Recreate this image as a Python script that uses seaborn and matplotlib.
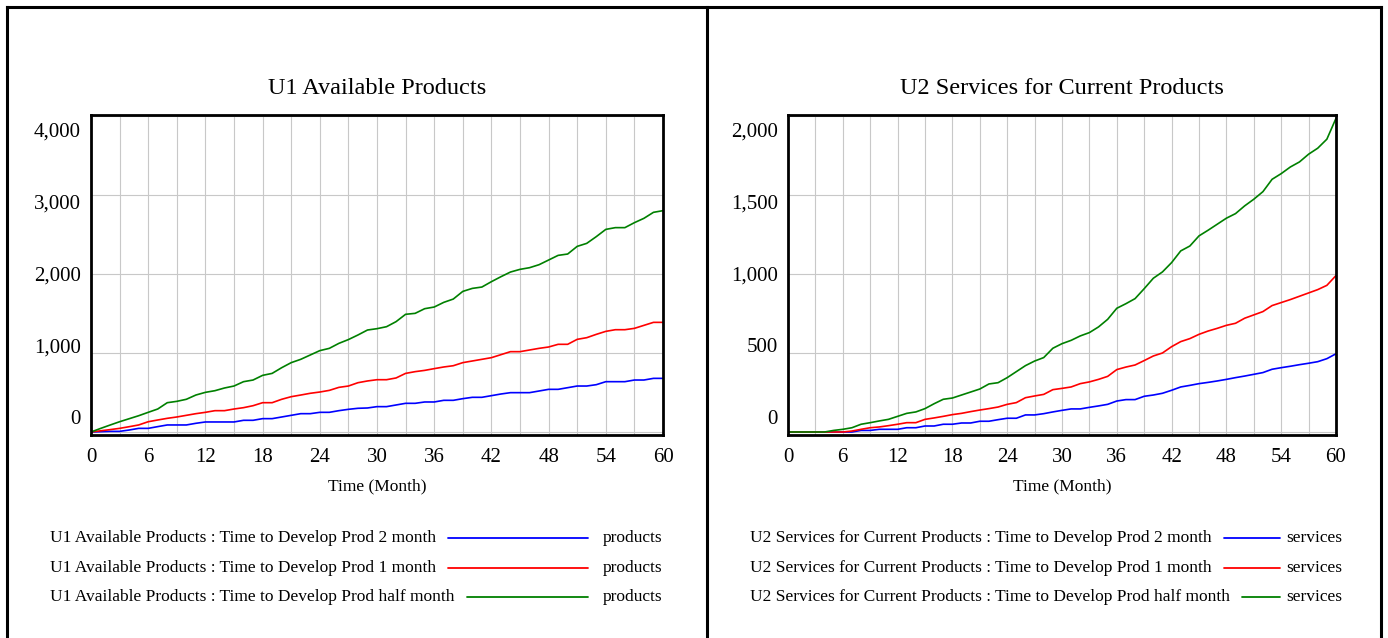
import pandas as pd
import seaborn as sns
import matplotlib.pyplot as plt
from matplotlib.lines import Line2D

# Simulation time axis (months)
months = list(range(61))

# U1 Available Products (products) per scenario
products_2_month = [0, 4, 8, 8, 25, 46, 46, 68, 89, 89, 89, 110, 127, 127, 127, 127,
                    148, 148, 169, 169, 190, 211, 232, 232, 249, 249, 270, 287, 300, 304,
                    321, 321, 342, 363, 363, 380, 380, 401, 401, 422, 439, 439, 460, 481,
                    498, 498, 498, 519, 540, 540, 561, 582, 582, 599, 637, 637, 637, 658,
                    658, 679, 679]
products_1_month = [0, 15, 30, 46, 67, 89, 130, 152, 173, 190, 211, 232, 249, 270, 270,
                    291, 308, 333, 371, 371, 414, 447, 468, 490, 506, 527, 565, 582, 624,
                    646, 662, 662, 684, 742, 764, 780, 802, 823, 839, 878, 899, 920, 941,
                    979, 1017, 1017, 1038, 1059, 1076, 1110, 1110, 1173, 1194, 1236, 1274,
                    1295, 1295, 1312, 1350, 1388, 1388]
products_half_month = [0, 45, 88, 130, 168, 206, 249, 291, 371, 388, 414, 468, 502, 523,
                       557, 582, 637, 658, 717, 742, 814, 878, 920, 975, 1030, 1059, 1122,
                       1170, 1228, 1291, 1308, 1333, 1397, 1490, 1502, 1561, 1582, 1641,
                       1683, 1780, 1818, 1835, 1903, 1966, 2025, 2059, 2080, 2118, 2177,
                       2236, 2253, 2350, 2388, 2473, 2565, 2587, 2587, 2650, 2705, 2781, 2802]

# U2 Services for Current Products (services) per scenario
services_2_month = [0, 0, 0, 0, 0, 0, 0, 0, 10, 10, 17, 17, 17, 27, 27, 38, 38, 49, 49,
                    57, 57, 68, 68, 78, 87, 87, 108, 108, 116, 127, 137, 146, 146, 156,
                    165, 175, 196, 205, 205, 226, 234, 245, 264, 285, 295, 306, 314, 323,
                    333, 344, 354, 365, 376, 397, 407, 416, 426, 435, 445, 464, 495]
services_1_month = [0, 0, 0, 0, 0, 0, 0, 6, 17, 27, 32, 40, 49, 59, 59, 80, 89, 99, 110,
                    118, 129, 139, 148, 158, 175, 186, 217, 228, 238, 268, 276, 285, 306,
                    317, 333, 352, 395, 411, 424, 452, 481, 500, 540, 572, 591, 618, 639,
                    656, 675, 688, 720, 741, 762, 800, 819, 838, 859, 880, 901, 928, 990]
services_half_month = [0, 0, 0, 0, 0, 10, 17, 27, 49, 59, 70, 80, 99, 118, 127, 148, 179,
                       207, 215, 234, 253, 272, 304, 312, 344, 382, 420, 449, 471, 530, 559,
                       580, 608, 629, 665, 713, 783, 812, 844, 907, 973, 1013, 1072, 1146,
                       1177, 1241, 1277, 1315, 1353, 1382, 1431, 1473, 1521, 1599, 1635,
                       1677, 1709, 1758, 1796, 1853, 1985]

scenarios = ["Time to Develop Prod 2 month",
             "Time to Develop Prod 1 month",
             "Time to Develop Prod half month"]
line_colors = ["#0000ff", "#ff0000", "#008000"]

x_ticks = [0, 6, 12, 18, 24, 30, 36, 42, 48, 54, 60]
y_ticks_products = [0, 1000, 2000, 3000, 4000]
y_ticks_services = [0, 500, 1000, 1500, 2000]


def long_frame(series):
    parts = [pd.DataFrame({"Time": months, "Value": vals, "Run": name})
             for name, vals in zip(scenarios, series)]
    return pd.concat(parts, ignore_index=True)


products_df = long_frame([products_2_month, products_1_month, products_half_month])
services_df = long_frame([services_2_month, services_1_month, services_half_month])

sns.set_theme(style="white")
plt.rcParams["font.family"] = ["Liberation Serif", "DejaVu Serif"]

W, H = 1388, 638
fig = plt.figure(figsize=(W / 100, H / 100), dpi=100)
fig.patch.set_facecolor("white")


def px_rect(x0, y0, x1, y1):
    return [x0 / W, 1 - y1 / H, (x1 - x0) / W, (y1 - y0) / H]


ax_left = fig.add_axes(px_rect(91, 115, 663, 435))
ax_right = fig.add_axes(px_rect(788, 115, 1336, 435))


def draw_panel(ax, df, title, yticks, ymin, ymax):
    sns.lineplot(data=df, x="Time", y="Value", hue="Run", hue_order=scenarios,
                 palette=line_colors, estimator=None, linewidth=1.2,
                 legend=False, ax=ax, zorder=3)
    ax.set_xlim(0, 60)
    ax.set_ylim(ymin, ymax)
    ax.set_xticks(x_ticks)
    ax.set_xticks(range(0, 61, 3), minor=True)
    ax.set_yticks(yticks)
    ax.set_yticklabels([])
    ax.grid(True, which="both", axis="x", color="#c8c8c8", linewidth=0.8)
    ax.grid(True, which="major", axis="y", color="#c8c8c8", linewidth=0.8)
    ax.set_axisbelow(True)
    ax.tick_params(axis="both", which="both", length=0)
    ax.tick_params(axis="x", labelsize=15, pad=9, colors="black")
    for sp in ax.spines.values():
        sp.set_visible(True)
        sp.set_color("black")
        sp.set_linewidth(2.0)
        sp.set_zorder(5)
    ax.set_title(title, fontsize=17.5, pad=15, color="black")
    ax.set_xlabel("Time (Month)", fontsize=12.5, color="black")
    ax.xaxis.set_label_coords(0.5, -43 / 320)
    ax.set_ylabel("")
    # value labels spread along the left edge
    width_px = ax.get_position().width * W
    n = len(yticks)
    for i, v in enumerate(yticks):
        frac = 0.047 + i * (0.9 / (n - 1))
        ax.text(-10 / width_px, frac, f"{v:,}", transform=ax.transAxes,
                ha="right", va="center", fontsize=15, color="black")


draw_panel(ax_left, products_df, "U1 Available Products", y_ticks_products, -38, 4013)
draw_panel(ax_right, services_df, "U2 Services for Current Products", y_ticks_services, -19, 2006)

# Panel frames
frame_kw = dict(transform=fig.transFigure, color="black", linewidth=2.2, solid_capstyle="projecting")
fig.add_artist(Line2D([7 / W, 1381 / W], [1 - 7 / H, 1 - 7 / H], **frame_kw))
for xp in (7, 707, 1381):
    fig.add_artist(Line2D([xp / W, xp / W], [1 - 7 / H, 0], **frame_kw))

# Legends listing each run with its unit
fig.canvas.draw()
renderer = fig.canvas.get_renderer()
row_y = [538, 568, 597]


def draw_legend(prefix, x_text, x_line_end, x_unit, unit):
    for yy, name, col in zip(row_y, scenarios, line_colors):
        t = fig.text(x_text / W, 1 - yy / H, f"{prefix} : {name}", ha="left",
                     va="center", fontsize=12.5, color="black")
        bb = t.get_window_extent(renderer=renderer)
        x_start = bb.x1 + 12
        fig.add_artist(Line2D([x_start / W, x_line_end / W], [1 - yy / H, 1 - yy / H],
                              transform=fig.transFigure, color=col, linewidth=1.3))
        fig.text(x_unit / W, 1 - yy / H, unit, ha="left", va="center",
                 fontsize=12.5, color="black")


draw_legend("U1 Available Products", 50, 588, 603, "products")
draw_legend("U2 Services for Current Products", 750, 1280, 1286, "services")

fig.savefig("out.png", dpi=100, facecolor="white")
